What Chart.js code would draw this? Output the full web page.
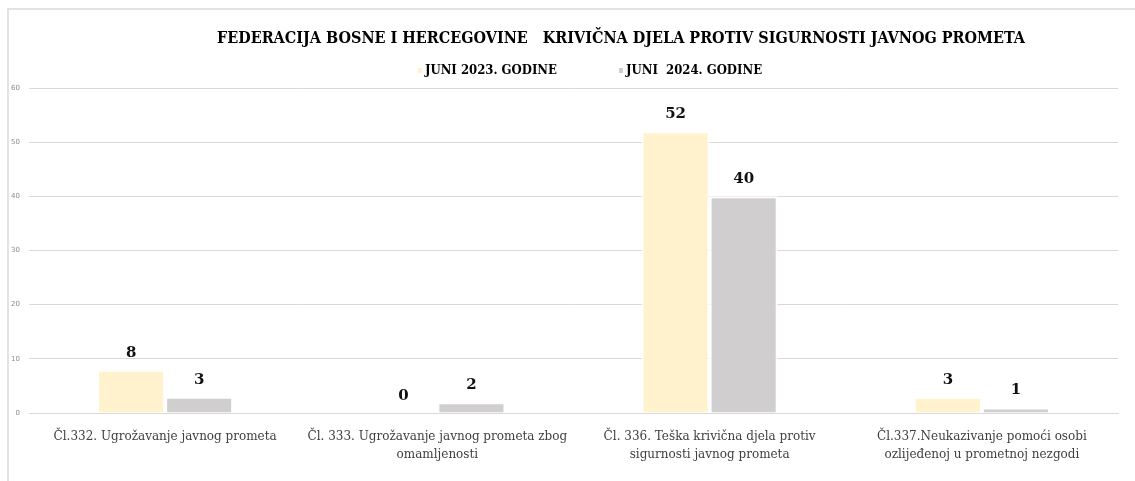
<!DOCTYPE html>
<html>
<head>
<meta charset="utf-8">
<script src="https://cdn.jsdelivr.net/npm/chart.js@4"></script>
<style>
  html, body { margin: 0; padding: 0; background: #fff; }
  #okvir {
    position: absolute; left: 7px; top: 8px; width: 1128px; height: 473px;
    border-top: 2px solid #e3e3e3; border-left: 2px solid #e3e3e3;
    box-sizing: border-box;
  }
  #graf { display: block; }
</style>
</head>
<body>
<div id="okvir"><canvas id="graf" width="1126" height="471"></canvas></div>
<script>
const kategorije = [
  ['Čl.332. Ugrožavanje javnog prometa'],
  ['Čl. 333. Ugrožavanje javnog prometa zbog', 'omamljenosti'],
  ['Čl. 336. Teška krivična djela protiv', 'sigurnosti javnog prometa'],
  ['Čl.337.Neukazivanje pomoći osobi', 'ozlijeđenoj u prometnoj nezgodi']
];
const juni2023 = [8, 0, 52, 3];
const juni2024 = [3, 2, 40, 1];
const oznakeSerija = ['JUNI 2023. GODINE', 'JUNI  2024. GODINE'];
const naslov = 'FEDERACIJA BOSNE I HERCEGOVINE   KRIVIČNA DJELA PROTIV SIGURNOSTI JAVNOG PROMETA';

const fontUski = '"DejaVu Serif Condensed", "Liberation Serif", serif';

// naslov i legenda (crtani ručno da se mogu pomaknuti kao u originalu)
const zaglavlje = {
  id: 'zaglavlje',
  afterDraw(chart) {
    const ctx = chart.ctx;
    ctx.save();
    ctx.fillStyle = '#000';
    ctx.textBaseline = 'middle';
    ctx.textAlign = 'center';
    ctx.font = 'bold 16px ' + fontUski;
    ctx.fillText(naslov, 612, 29);

    ctx.font = 'bold 13px ' + fontUski;
    ctx.textAlign = 'left';
    const sirine = oznakeSerija.map(t => ctx.measureText(t).width);
    const razmak = 62;
    const ukupno = sirine[0] + sirine[1] + 14 + razmak;
    let x = 581 - ukupno / 2;
    chart.data.datasets.forEach((ds, i) => {
      ctx.fillStyle = ds.backgroundColor;
      ctx.fillRect(x, 58, 4, 5);
      ctx.fillStyle = '#000';
      ctx.fillText(oznakeSerija[i], x + 7, 61);
      x += 7 + sirine[i] + razmak;
    });
    ctx.restore();
  }
};

// vrijednosti iznad stupaca
const oznakeVrijednosti = {
  id: 'oznakeVrijednosti',
  afterDatasetsDraw(chart) {
    const ctx = chart.ctx;
    ctx.save();
    ctx.font = 'bold 15px "DejaVu Serif", serif';
    ctx.fillStyle = '#111';
    ctx.textAlign = 'center';
    ctx.textBaseline = 'middle';
    chart.data.datasets.forEach((ds, i) => {
      chart.getDatasetMeta(i).data.forEach((bar, j) => {
        ctx.fillText(ds.data[j], bar.x, bar.y - 17);
      });
    });
    ctx.restore();
  }
};

new Chart(document.getElementById('graf'), {
  type: 'bar',
  data: {
    labels: kategorije,
    datasets: [{
      label: oznakeSerija[0],
      data: juni2023,
      backgroundColor: '#fff2cc',
      borderColor: '#ffffff',
      borderWidth: 2
    }, {
      label: oznakeSerija[1],
      data: juni2024,
      backgroundColor: '#d0cece',
      borderColor: '#ffffff',
      borderWidth: 2
    }]
  },
  options: {
    responsive: false,
    animation: false,
    categoryPercentage: 0.5,
    barPercentage: 1,
    layout: { padding: { top: 78, left: 0, right: 17, bottom: 0 } },
    plugins: {
      title: { display: false },
      legend: { display: false },
      tooltip: { enabled: false }
    },
    scales: {
      x: {
        grid: { display: false },
        border: { color: '#d9d9d9' },
        afterFit(s) { s.height = 68; },
        ticks: {
          color: '#404040',
          maxRotation: 0,
          padding: 7,
          font: { family: '"DejaVu Serif", serif', size: 12, lineHeight: 1.5 }
        }
      },
      y: {
        min: 0, max: 60,
        afterFit(s) { s.width = 20; },
        grid: { color: '#d9d9d9', drawTicks: false },
        border: { display: false },
        ticks: {
          stepSize: 10,
          padding: 9,
          color: '#8c8c8c',
          font: { family: '"DejaVu Sans", sans-serif', size: 7 }
        }
      }
    }
  },
  plugins: [oznakeVrijednosti, zaglavlje]
});
</script>
</body>
</html>
